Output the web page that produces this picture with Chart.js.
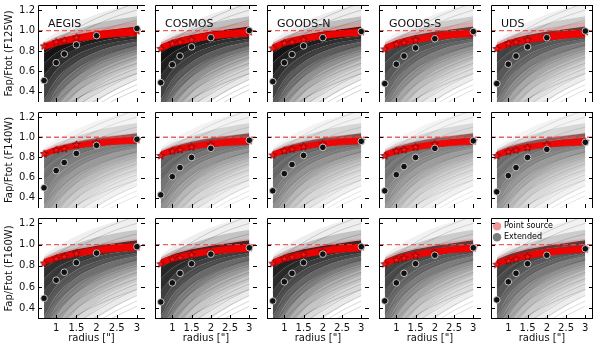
<!DOCTYPE html>
<html><head><meta charset="utf-8">
<script src="https://cdn.jsdelivr.net/npm/chart.js@4.4.1/dist/chart.umd.min.js"></script>
<style>
html,body{margin:0;padding:0;background:#fff;}
#wrap{position:relative;width:600px;height:345px;overflow:hidden;background:#fff;}
#wrap canvas{position:absolute;}
</style></head><body><div id="wrap"></div>
<script>
// ---------------- DATA ----------------
const fields = ['AEGIS','COSMOS','GOODS-N','GOODS-S','UDS'];
const filters = ['F125W','F140W','F160W'];
const radii = [0.7, 1.0, 1.2, 1.5, 2.0, 3.0];        // radii of the plotted markers
const curveRadii = [0.7, 1.0, 1.5, 2.0, 2.5, 3.0];   // radii at which curves are sampled
const xTicks = [1, 1.5, 2, 2.5, 3];
const yTicks = [0.4, 0.6, 0.8, 1.0, 1.2];
const X_MIN = 0.55, X_MAX = 3.2, Y_MIN = 0.3, Y_MAX = 1.25;
const totalLevel = 1.0;

// extended sources (black circles); rows: F125W x5 fields, F140W x5, F160W x5
const extended = [
  [0.51,0.685,0.77,0.86,0.95,1.02],
  [0.49,0.665,0.75,0.84,0.93,1.00],
  [0.50,0.685,0.765,0.85,0.93,0.99],
  [0.48,0.67,0.75,0.83,0.92,0.99],
  [0.48,0.67,0.75,0.84,0.93,0.995],
  [0.50,0.67,0.75,0.84,0.92,0.98],
  [0.43,0.61,0.70,0.80,0.89,0.97],
  [0.47,0.64,0.73,0.82,0.90,0.96],
  [0.47,0.63,0.71,0.80,0.89,0.965],
  [0.46,0.62,0.70,0.80,0.88,0.95],
  [0.495,0.665,0.74,0.83,0.92,0.98],
  [0.46,0.64,0.73,0.82,0.91,0.97],
  [0.47,0.65,0.73,0.83,0.91,0.98],
  [0.47,0.64,0.73,0.82,0.90,0.97],
  [0.48,0.65,0.73,0.82,0.90,0.96]
];
// point sources (red stars)
const pointSrc = [
  [0.85,0.89,0.905,0.935,0.95,1.00],
  [0.825,0.877,0.89,0.913,0.935,0.99],
  [0.83,0.88,0.89,0.915,0.94,0.99],
  [0.82,0.87,0.885,0.91,0.935,0.985],
  [0.824,0.877,0.89,0.91,0.94,0.99],
  [0.84,0.876,0.89,0.93,0.944,0.98],
  [0.82,0.865,0.88,0.905,0.93,0.97],
  [0.825,0.87,0.885,0.91,0.935,0.97],
  [0.82,0.867,0.88,0.905,0.935,0.965],
  [0.82,0.86,0.875,0.90,0.93,0.96],
  [0.827,0.87,0.89,0.92,0.93,0.98],
  [0.82,0.865,0.88,0.905,0.93,0.975],
  [0.825,0.87,0.885,0.91,0.935,0.98],
  [0.82,0.86,0.875,0.90,0.925,0.97],
  [0.815,0.85,0.865,0.89,0.91,0.96]
];
// red band of point-source curves (lower / upper edge) at curveRadii
const redLow = [
  [0.81,0.85,0.89,0.92,0.94,0.95],
  [0.80,0.845,0.885,0.915,0.935,0.945],
  [0.80,0.85,0.89,0.92,0.94,0.95],
  [0.795,0.84,0.88,0.91,0.93,0.94],
  [0.795,0.84,0.88,0.905,0.925,0.94],
  [0.81,0.85,0.89,0.915,0.93,0.94],
  [0.80,0.84,0.88,0.905,0.92,0.93],
  [0.80,0.84,0.88,0.91,0.925,0.935],
  [0.795,0.835,0.875,0.90,0.92,0.93],
  [0.795,0.835,0.875,0.90,0.915,0.925],
  [0.81,0.85,0.89,0.915,0.935,0.945],
  [0.80,0.84,0.88,0.91,0.925,0.935],
  [0.80,0.84,0.88,0.91,0.93,0.94],
  [0.795,0.835,0.875,0.905,0.925,0.935],
  [0.795,0.83,0.87,0.895,0.915,0.925]
];
const redHigh = [
  [0.87,0.91,0.955,0.99,1.01,1.03],
  [0.86,0.905,0.95,0.98,1.00,1.02],
  [0.86,0.91,0.95,0.98,1.00,1.02],
  [0.855,0.90,0.94,0.97,0.99,1.005],
  [0.855,0.90,0.94,0.97,0.99,1.005],
  [0.86,0.90,0.94,0.97,0.99,1.00],
  [0.855,0.895,0.935,0.965,0.985,0.995],
  [0.855,0.895,0.935,0.965,0.985,0.995],
  [0.85,0.89,0.93,0.96,0.98,0.99],
  [0.85,0.89,0.93,0.955,0.975,0.99],
  [0.86,0.90,0.94,0.975,0.995,1.01],
  [0.855,0.895,0.935,0.965,0.985,1.00],
  [0.855,0.895,0.935,0.97,0.99,1.00],
  [0.85,0.89,0.93,0.96,0.98,0.995],
  [0.845,0.885,0.925,0.955,0.975,0.99]
];
// faint red spread above the band, one per filter row
const redHalo = [
  [0.88,0.93,0.98,1.02,1.05,1.08],
  [0.87,0.915,0.96,0.995,1.02,1.04],
  [0.87,0.92,0.965,1.00,1.03,1.05]
];
// grey cloud of extended-source curves: boundaries of density bands (top to bottom)
const greyBounds = [
  [0.90,0.98,1.08,1.16,1.22,1.28],
  [0.88,0.94,1.01,1.07,1.11,1.14],
  [0.86,0.905,0.955,0.99,1.015,1.04],
  [0.78,0.85,0.92,0.96,0.985,1.0],
  [0.68,0.78,0.87,0.925,0.955,0.975],
  [0.56,0.70,0.82,0.885,0.925,0.95],
  [0.44,0.61,0.76,0.84,0.89,0.92],
  [0.32,0.52,0.69,0.79,0.85,0.89],
  [0.20,0.42,0.62,0.73,0.80,0.85],
  [0.08,0.32,0.54,0.67,0.75,0.81],
  [-0.04,0.22,0.46,0.60,0.69,0.76],
  [-0.16,0.12,0.38,0.53,0.63,0.71],
  [-0.28,0.02,0.30,0.46,0.57,0.65],
  [-0.40,-0.08,0.22,0.39,0.50,0.59],
  [-0.55,-0.2,0.12,0.30,0.42,0.52]
];
const greyBandAlpha = [0.07,0.25,0.95,0.92,0.88,0.82,0.74,0.64,0.54,0.43,0.33,0.24,0.16,0.09];
// individual faint curves giving the line texture
const greyLines = [
  [0.62,0.74,0.86,0.92,0.96,0.99],
  [0.45,0.58,0.74,0.83,0.89,0.93],
  [0.35,0.47,0.63,0.73,0.80,0.85],
  [0.25,0.38,0.55,0.66,0.74,0.80],
  [0.18,0.30,0.47,0.58,0.67,0.74],
  [0.10,0.22,0.40,0.52,0.61,0.68],
  [0.05,0.15,0.32,0.45,0.55,0.63],
  [0.00,0.10,0.26,0.38,0.49,0.58],
  [-0.05,0.05,0.20,0.32,0.43,0.52],
  [-0.1,0.0,0.15,0.27,0.38,0.47],
  [-0.2,-0.05,0.10,0.22,0.33,0.42],
  [0.30,0.50,0.70,0.80,0.87,0.92],
  [0.20,0.40,0.60,0.72,0.80,0.86],
  [0.55,0.72,0.88,0.98,1.05,1.10],
  [0.70,0.82,0.96,1.06,1.14,1.20],
  [0.80,0.90,1.02,1.12,1.20,1.27],
  [0.60,0.70,0.82,0.90,0.96,1.02],
  [0.12,0.20,0.33,0.43,0.51,0.58]
];
// overall darkness of the grey cloud in each panel
const panelShade = [1.0,1.0,1.0,0.8,0.8, 0.62,0.66,0.66,0.6,0.62, 0.88,0.92,0.94,0.8,0.8];
const legendLabels = ['Point source','Extended'];

// ---------------- LAYOUT ----------------
const PLOT_L = 38, PLOT_T = 1, PW = 112, PH = 106, AXIS_H = 26;
const FONT = 'DejaVu Sans';
Chart.defaults.font.family = FONT;
Chart.defaults.color = '#000';

function makeStar(size, fill, stroke){
  const cv = document.createElement('canvas');
  cv.width = cv.height = size;
  const g = cv.getContext('2d');
  const cx = size/2, cy = size/2 + 0.4, R = size/2 - 0.5, r = R*0.42;
  g.beginPath();
  for (let i = 0; i < 10; i++){
    const a = -Math.PI/2 + i*Math.PI/5, rad = (i % 2) ? r : R;
    g.lineTo(cx + rad*Math.cos(a), cy + rad*Math.sin(a));
  }
  g.closePath(); g.fillStyle = fill; g.fill();
  g.lineWidth = 0.8; g.strokeStyle = stroke; g.stroke();
  return cv;
}
const starImg = makeStar(9, '#ff1a1a', '#7a0000');

const framePlugin = {
  id: 'frame',
  afterDraw(chart, args, opts){
    const {ctx, chartArea: a, scales} = chart;
    ctx.save();
    ctx.strokeStyle = '#000'; ctx.lineWidth = 1;
    ctx.beginPath();
    xTicks.forEach(v => {
      const px = Math.round(scales.x.getPixelForValue(v)) + 0.5;
      ctx.moveTo(px, a.bottom); ctx.lineTo(px, a.bottom - 4);
      ctx.moveTo(px, a.top); ctx.lineTo(px, a.top + 4);
    });
    yTicks.forEach(v => {
      const py = Math.round(scales.y.getPixelForValue(v)) + 0.5;
      ctx.moveTo(a.left, py); ctx.lineTo(a.left + 4, py);
      ctx.moveTo(a.right, py); ctx.lineTo(a.right - 4, py);
    });
    ctx.stroke();
    ctx.beginPath();
    ctx.moveTo(a.left + 0.5, a.bottom); ctx.lineTo(a.left + 0.5, a.top + 0.5); ctx.lineTo(a.right, a.top + 0.5);
    if (opts.right) { ctx.moveTo(a.right - 0.5, a.top); ctx.lineTo(a.right - 0.5, a.bottom); }
    if (opts.bottom) { ctx.moveTo(a.left, a.bottom - 0.5); ctx.lineTo(a.right, a.bottom - 0.5); }
    ctx.stroke();
    if (opts.label) {
      ctx.fillStyle = '#111';
      ctx.font = '11px "' + FONT + '"';
      ctx.textBaseline = 'middle'; ctx.textAlign = 'left';
      ctx.fillText(opts.label, a.left + 10, a.top + 19);
    }
    ctx.restore();
  }
};

function pts(xs, ys){ return xs.map((x, i) => ({x: x, y: ys[i]})); }

function makePanel(r, c){
  const idx = r*5 + c;
  const left = PLOT_L + PW*c, top = PLOT_T + PH*r;
  const cLeft = c === 0 ? 0 : left;
  const cTop = r === 0 ? 0 : top;
  const cW = left + PW - cLeft;
  const cH = (r === 2 ? top + PH + AXIS_H : top + PH) - cTop;
  const cv = document.createElement('canvas');
  cv.width = cW; cv.height = cH;
  cv.style.left = cLeft + 'px'; cv.style.top = cTop + 'px';
  cv.style.width = cW + 'px'; cv.style.height = cH + 'px';
  document.getElementById('wrap').appendChild(cv);

  const f = panelShade[idx];
  const datasets = [];
  datasets.push({data: pts(radii, extended[idx]), showLine: false, order: 0,
    pointRadius: 3.3, pointBackgroundColor: '#111', pointBorderColor: 'rgba(215,215,215,0.95)', pointBorderWidth: 0.9, clip: 0});
  datasets.push({data: pts(radii, pointSrc[idx]), showLine: false, order: 1,
    pointStyle: starImg, pointRadius: 4, clip: 0});
  datasets.push({data: pts(curveRadii, redHalo[r]), order: 2, borderColor: 'rgba(255,0,0,0.12)', borderWidth: 0.8,
    pointRadius: 0, cubicInterpolationMode: 'monotone', fill: '+1', backgroundColor: 'rgba(255,40,40,0.2)', clip: 0});
  datasets.push({data: pts(curveRadii, redHigh[idx]), order: 3, borderColor: 'rgba(225,0,0,0.9)', borderWidth: 0.8,
    pointRadius: 0, cubicInterpolationMode: 'monotone', fill: '+1', backgroundColor: 'rgba(248,0,0,0.95)', clip: 0});
  datasets.push({data: pts(curveRadii, redLow[idx]), order: 4, borderColor: 'rgba(215,0,0,0.9)', borderWidth: 0.8,
    pointRadius: 0, cubicInterpolationMode: 'monotone', fill: false, clip: 0});
  datasets.push({data: [{x: X_MIN, y: totalLevel}, {x: X_MAX, y: totalLevel}], order: 5,
    borderColor: 'rgba(228,80,80,0.9)', borderWidth: 1.3, borderDash: [5, 3], pointRadius: 0, fill: false, clip: 0});
  greyLines.forEach((ln, k) => {
    datasets.push({data: pts(curveRadii, ln), order: 6,
      borderColor: 'rgba(0,0,0,' + (0.25*f).toFixed(3) + ')', borderWidth: 0.7,
      pointRadius: 0, cubicInterpolationMode: 'monotone', fill: false, clip: 0});
  });
  greyBounds.forEach((b, k) => {
    const last = k === greyBounds.length - 1;
    datasets.push({data: pts(curveRadii, b), order: 7 + k,
      borderColor: 'rgba(0,0,0,0)', borderWidth: 1, pointRadius: 0, cubicInterpolationMode: 'monotone',
      fill: last ? false : '+1',
      backgroundColor: last ? 'rgba(0,0,0,0)' : 'rgba(0,0,0,' + Math.min(1, greyBandAlpha[k]*f).toFixed(3) + ')',
      clip: 0});
  });

  new Chart(cv, {
    type: 'line',
    data: {datasets},
    plugins: [framePlugin],
    options: {
      responsive: false, animation: false, devicePixelRatio: 1, events: [],
      layout: {padding: {top: top - cTop, left: 0, right: 0, bottom: 0}},
      plugins: {
        tooltip: {enabled: false},
        filler: {propagate: false},
        frame: {right: c === 4, bottom: r === 2, label: r === 0 ? fields[c] : ''},
        legend: {
          display: idx === 14,
          position: 'chartArea', align: 'start',
          title: {display: true, text: '', font: {size: 1}, padding: {top: 0, bottom: 5}},
          labels: {
            usePointStyle: true, boxWidth: 6, boxHeight: 6, padding: 3,
            font: {family: FONT, size: 8}, color: '#222',
            generateLabels: () => [
              {text: legendLabels[0], fillStyle: 'rgba(236,150,150,1)', strokeStyle: 'rgba(236,150,150,1)', lineWidth: 0, pointStyle: 'circle', hidden: false, datasetIndex: 1},
              {text: legendLabels[1], fillStyle: 'rgba(125,125,125,1)', strokeStyle: 'rgba(125,125,125,1)', lineWidth: 0, pointStyle: 'circle', hidden: false, datasetIndex: 0}
            ]
          }
        }
      },
      scales: {
        x: {
          type: 'linear', min: X_MIN, max: X_MAX, display: r === 2,
          afterBuildTicks: s => { s.ticks = xTicks.map(v => ({value: v})); },
          afterFit: s => { s.height = (r === 2) ? AXIS_H : 0; s.paddingLeft = 0; s.paddingRight = 0; s.paddingTop = 0; s.paddingBottom = 0; },
          grid: {display: false, drawTicks: false},
          border: {display: false},
          ticks: {font: {family: FONT, size: 10}, color: '#111', padding: 3, maxRotation: 0, autoSkip: false,
                  callback: v => String(v)},
          title: {display: true, text: 'radius ["]', font: {family: FONT, size: 10}, color: '#111', padding: {top: 0, bottom: 1}}
        },
        y: {
          type: 'linear', min: Y_MIN, max: Y_MAX, display: c === 0,
          afterBuildTicks: s => { s.ticks = yTicks.map(v => ({value: v})); },
          afterFit: s => { s.width = (c === 0) ? PLOT_L : 0; s.paddingTop = 0; s.paddingBottom = 0; s.paddingLeft = 0; s.paddingRight = 0; },
          grid: {display: false, drawTicks: false},
          border: {display: false},
          ticks: {font: {family: FONT, size: 10}, color: '#111', padding: 3, autoSkip: false,
                  callback: v => Number(v).toFixed(1)},
          title: {display: true, text: 'Fap/Ftot (' + filters[r] + ')', font: {family: FONT, size: 10}, color: '#111', padding: {top: 3, bottom: 0}}
        }
      }
    }
  });
}

for (let r = 0; r < 3; r++) for (let c = 0; c < 5; c++) makePanel(r, c);
</script>
</body></html>
